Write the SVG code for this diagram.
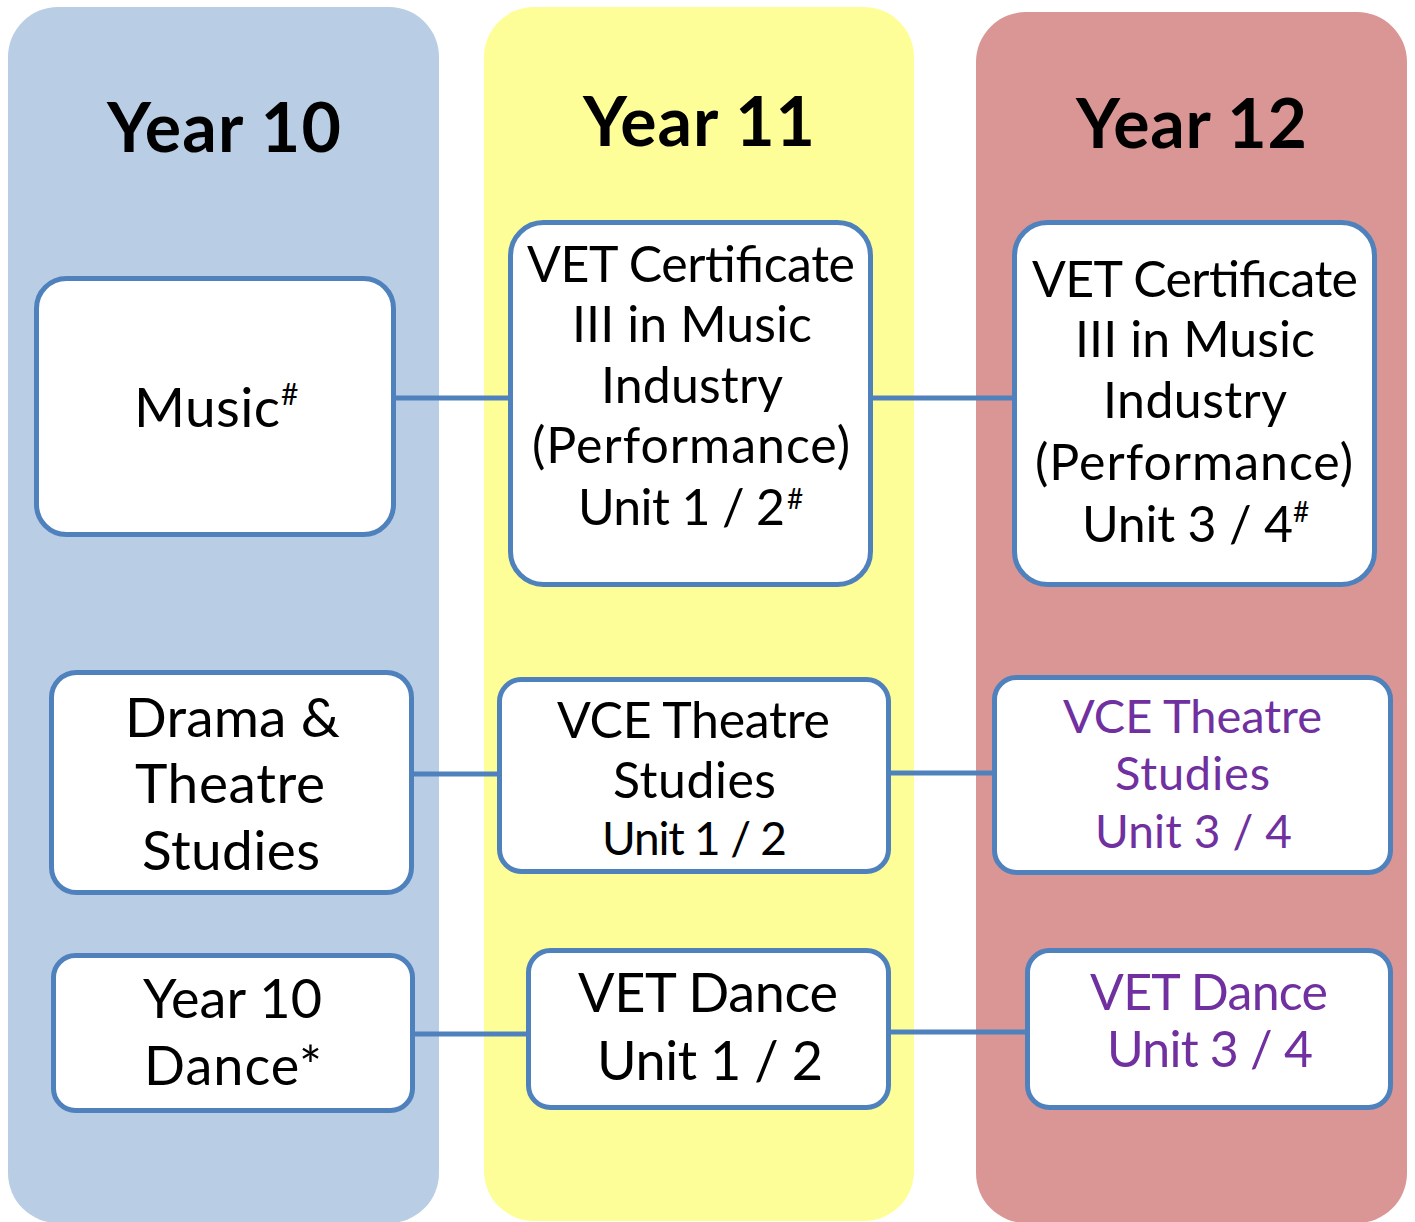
<svg xmlns="http://www.w3.org/2000/svg" width="1415" height="1222" viewBox="0 0 1415 1222">
<style>
.col{stroke:none}
.node rect{fill:#FFFFFF;stroke:#4F81BD;stroke-width:5}
.conn line{stroke:#4F81BD;stroke-width:5}
text{font-family:Lato,"Liberation Sans",sans-serif;fill:#000000;text-anchor:middle}
.hdr{font-weight:bold;font-size:68px}
.p{fill:#7030A0}
.sup{text-anchor:start}
</style>
<rect class="col" x="8" y="7" width="431" height="1216" rx="50" fill="#B9CDE5"/>
<rect class="col" x="484" y="7" width="430" height="1214" rx="50" fill="#FEFE98"/>
<rect class="col" x="976" y="12" width="431" height="1211" rx="50" fill="#D99694"/>
<text class="hdr" x="224" y="152" textLength="234">Year 10</text>
<text class="hdr" x="699" y="146" textLength="232">Year 11</text>
<text class="hdr" x="1191.5" y="148" textLength="231">Year 12</text>
<g class="conn" id="connectors">
<line x1="394" y1="398" x2="511" y2="398"/>
<line x1="870" y1="398" x2="1015" y2="398"/>
<line x1="411" y1="774" x2="500" y2="774"/>
<line x1="888" y1="773" x2="995" y2="773"/>
<line x1="412" y1="1034" x2="529" y2="1034"/>
<line x1="888" y1="1032" x2="1028" y2="1032"/>
</g>
<g class="node" id="music10">
<rect x="36.5" y="278.5" width="357" height="256" rx="30"/>
<text x="207" y="427" font-size="55" textLength="146">Music</text>
<text class="sup" x="281" y="405" font-size="30">#</text>
</g>
<g class="node" id="vetmusic11">
<rect x="510.5" y="222.5" width="360" height="362" rx="33"/>
<text x="691" y="282" font-size="50" textLength="328">VET Certificate</text>
<text x="692" y="342" font-size="50" textLength="240">III in Music</text>
<text x="692" y="403" font-size="50" textLength="182">Industry</text>
<text x="691" y="463" font-size="50" textLength="318">(Performance)</text>
<text x="681.5" y="525" font-size="50" textLength="207">Unit 1 / 2</text>
<text class="sup" x="787" y="509" font-size="28">#</text>
</g>
<g class="node" id="vetmusic12">
<rect x="1014.5" y="222.5" width="360" height="362" rx="33"/>
<text x="1195" y="297" font-size="50" textLength="326">VET Certificate</text>
<text x="1195" y="357" font-size="50" textLength="240">III in Music</text>
<text x="1195" y="418" font-size="50" textLength="184">Industry</text>
<text x="1194" y="480" font-size="50" textLength="318">(Performance)</text>
<text x="1187.5" y="542" font-size="50" textLength="211">Unit 3 / 4</text>
<text class="sup" x="1293" y="522" font-size="28">#</text>
</g>
<g class="node" id="drama10">
<rect x="51.5" y="672.5" width="360" height="220" rx="25"/>
<text x="232.5" y="737" font-size="55" textLength="215">Drama &amp;</text>
<text x="230" y="803" font-size="55" textLength="190">Theatre</text>
<text x="231" y="870" font-size="55" textLength="178">Studies</text>
</g>
<g class="node" id="dance10">
<rect x="53.5" y="955.5" width="359" height="155" rx="22"/>
<text x="232.5" y="1018" font-size="54" textLength="179">Year 10</text>
<text x="233" y="1085" font-size="54" textLength="178">Dance*</text>
</g>
<g class="node" id="vcetheatre11">
<rect x="499.5" y="679.5" width="389" height="192" rx="22"/>
<text x="693.5" y="738" font-size="50" textLength="273">VCE Theatre</text>
<text x="694.5" y="798" font-size="50" textLength="163">Studies</text>
<text x="694.5" y="855" font-size="46" textLength="185">Unit 1 / 2</text>
</g>
<g class="node" id="vetdance11">
<rect x="528.5" y="950.5" width="360" height="157" rx="22"/>
<text x="708" y="1012" font-size="54" textLength="260">VET Dance</text>
<text x="710" y="1080" font-size="54" textLength="226">Unit 1 / 2</text>
</g>
<g class="node" id="vcetheatre12">
<rect x="994.5" y="677.5" width="396" height="195" rx="22"/>
<text class="p" x="1192.5" y="733" font-size="47" textLength="259">VCE Theatre</text>
<text class="p" x="1192.5" y="790" font-size="47" textLength="155">Studies</text>
<text class="p" x="1193.5" y="848" font-size="46" textLength="197">Unit 3 / 4</text>
</g>
<g class="node" id="vetdance12">
<rect x="1027.5" y="950.5" width="363" height="157" rx="22"/>
<text class="p" x="1209" y="1010" font-size="50" textLength="238">VET Dance</text>
<text class="p" x="1210" y="1067" font-size="50" textLength="206">Unit 3 / 4</text>
</g>
</svg>
